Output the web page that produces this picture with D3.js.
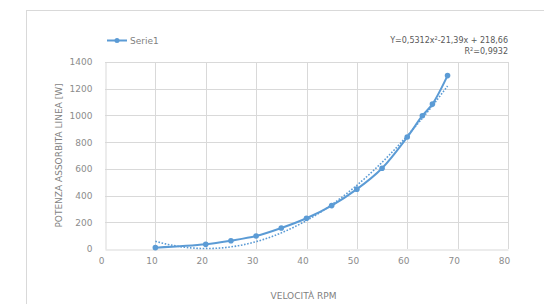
<!DOCTYPE html>
<html>
<head>
<meta charset="utf-8">
<script src="https://cdn.jsdelivr.net/npm/d3@7"></script>
<style>
  body { margin: 0; background: #fff; }
  text { font-family: "DejaVu Sans", sans-serif; fill: #7f7f7f; }
</style>
</head>
<body>
<div id="chart"></div>
<script>
// data
var rpm = [10, 20, 25, 30, 35, 40, 45, 50, 55, 60, 63, 65, 68];
var power = [10, 35, 62, 97, 157, 230, 325, 448, 605, 838, 998, 1085, 1298];
var xTicks = [0, 10, 20, 30, 40, 50, 60, 70, 80];
var yTicks = [0, 200, 400, 600, 800, 1000, 1200, 1400];
// polynomial trendline coefficients shown on the chart (a x^2 + b x + c)
var trendCoef = [0.5312, -21.39, 218.66];
var seriesName = "Serie1";

var W = 544, H = 304;
var margin = {top: 62, right: 36, bottom: 55, left: 105},
    width = W - margin.left - margin.right,
    height = H - margin.top - margin.bottom;

var svg = d3.select("#chart").append("svg")
    .attr("width", W)
    .attr("height", H);

// outer chart frame
svg.append("rect")
    .attr("x", 26.5).attr("y", 10.5)
    .attr("width", W).attr("height", H)
    .style("fill", "none")
    .style("stroke", "#d9d9d9");

var g = svg.append("g")
    .attr("transform", "translate(" + margin.left + "," + margin.top + ")");

var x = d3.scaleLinear().domain([0, 80]).range([0, width]);
var y = d3.scaleLinear().domain([0, 1400]).range([height, 0]);

// grid
g.append("g")
  .selectAll("line.v")
  .data(xTicks.slice(1))
  .enter().append("line")
    .attr("x1", function(d) { return Math.round(x(d)) + 0.5; })
    .attr("x2", function(d) { return Math.round(x(d)) + 0.5; })
    .attr("y1", 0).attr("y2", height)
    .style("stroke", "#d9d9d9");

g.append("g")
  .selectAll("line.h")
  .data(yTicks.slice(1))
  .enter().append("line")
    .attr("x1", 0).attr("x2", width)
    .attr("y1", function(d) { return Math.round(y(d)) + 0.5; })
    .attr("y2", function(d) { return Math.round(y(d)) + 0.5; })
    .style("stroke", "#d9d9d9");

// axes
var xAxis = g.append("g")
    .attr("transform", "translate(0," + (height + 0.5) + ")")
    .call(d3.axisBottom(x).tickValues(xTicks).tickFormat(d3.format("d")).tickSize(0).tickPadding(8));
xAxis.select(".domain").style("stroke", "#d9d9d9");
xAxis.selectAll("text")
    .attr("dx", -4)
    .style("font-size", "9px")
    .style("fill", "#8c8c8c");

var yAxis = g.append("g")
    .attr("transform", "translate(0.5,0)")
    .call(d3.axisLeft(y).tickValues(yTicks).tickFormat(d3.format("d")).tickSize(0).tickPadding(13));
yAxis.select(".domain").style("stroke", "#d9d9d9");
yAxis.selectAll("text")
    .style("font-size", "9px")
    .style("fill", "#8c8c8c");

// axis titles
svg.append("text")
    .attr("x", margin.left + width / 2 - 3)
    .attr("y", 299)
    .attr("text-anchor", "middle")
    .style("font-size", "9px")
    .text("VELOCITÀ RPM");

svg.append("text")
    .attr("transform", "translate(59," + (margin.top + height / 2) + ") rotate(-90)")
    .attr("text-anchor", "middle")
    .attr("dominant-baseline", "middle")
    .style("font-size", "9px")
    .text("POTENZA ASSORBITA LINEA [W]");

var pts = rpm.map(function(d, i) { return [d, power[i]]; });

// trendline
var trend = d3.range(rpm[0], rpm[rpm.length - 1] + 0.01, 0.5).map(function(v) {
  return [v, trendCoef[0] * v * v + trendCoef[1] * v + trendCoef[2]];
});
g.append("path")
    .datum(trend)
    .attr("d", d3.line()
      .x(function(d) { return x(d[0]); })
      .y(function(d) { return y(d[1]); }))
    .style("fill", "none")
    .style("stroke", "#5b9bd5")
    .style("stroke-width", 1.6)
    .style("stroke-dasharray", "1.6,1.6");

// series line
g.append("path")
    .datum(pts)
    .attr("d", d3.line()
      .curve(d3.curveCatmullRom)
      .x(function(d) { return x(d[0]); })
      .y(function(d) { return y(d[1]); }))
    .style("fill", "none")
    .style("stroke", "#5b9bd5")
    .style("stroke-width", 2);

g.selectAll("circle.pt")
  .data(pts)
  .enter().append("circle")
    .attr("cx", function(d) { return x(d[0]); })
    .attr("cy", function(d) { return y(d[1]); })
    .attr("r", 2.8)
    .style("fill", "#5b9bd5");

// legend
svg.append("line")
    .attr("x1", 107).attr("x2", 127)
    .attr("y1", 40.5).attr("y2", 40.5)
    .style("stroke", "#5b9bd5")
    .style("stroke-width", 2);
svg.append("circle")
    .attr("cx", 117).attr("cy", 40.5).attr("r", 2.5)
    .style("fill", "#5b9bd5");
svg.append("text")
    .attr("x", 130).attr("y", 43.5)
    .style("font-size", "9px")
    .text(seriesName);

// trendline equation
var eq = svg.append("text")
    .attr("x", 508).attr("y", 43)
    .attr("text-anchor", "end")
    .style("font-size", "8px")
    .style("fill", "#595959");
eq.append("tspan").text("Y=0,5312x");
eq.append("tspan").attr("dy", -3).style("font-size", "5px").text("2");
eq.append("tspan").attr("dy", 3).text("-21,39x + 218,66");

var r2 = svg.append("text")
    .attr("x", 508).attr("y", 54)
    .attr("text-anchor", "end")
    .style("font-size", "8px")
    .style("fill", "#595959");
r2.append("tspan").text("R");
r2.append("tspan").attr("dy", -3).style("font-size", "5px").text("2");
r2.append("tspan").attr("dy", 3).text("=0,9932");
</script>
</body>
</html>
